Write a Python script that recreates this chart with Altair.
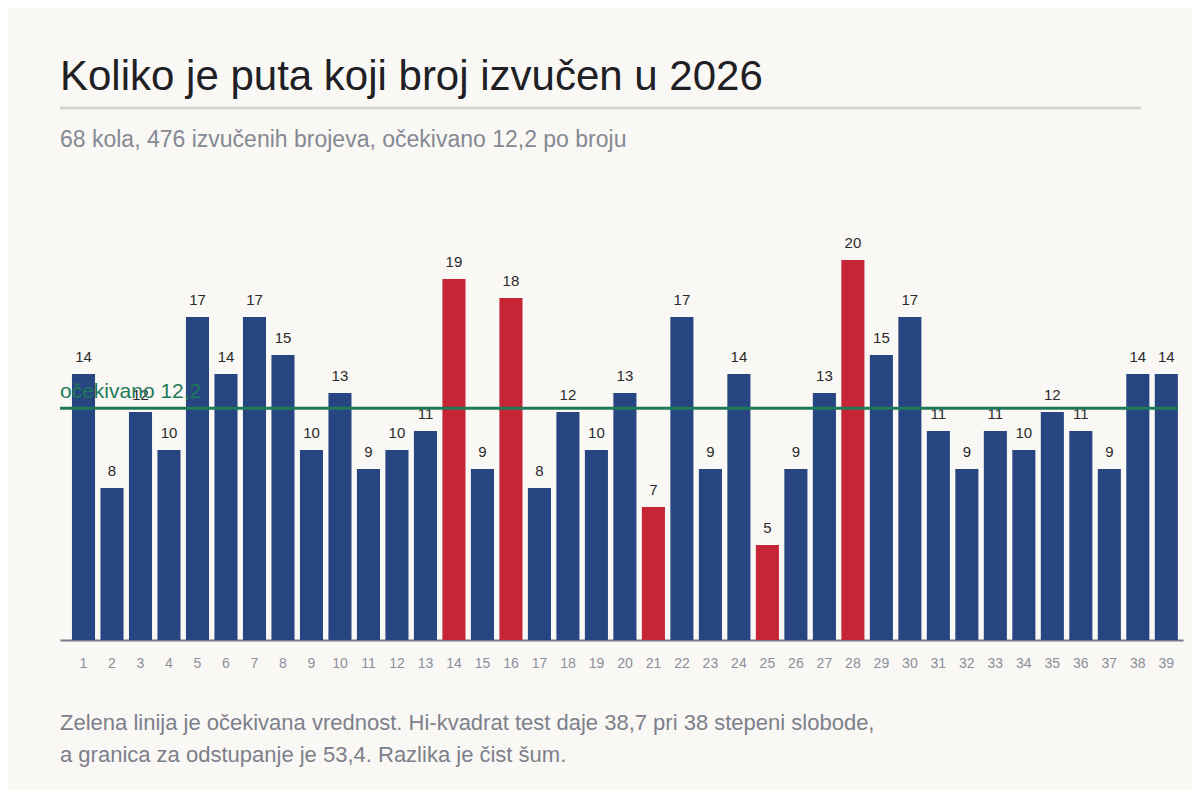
import altair as alt
import pandas as pd

numbers = list(range(1, 40))
counts = [14, 8, 12, 10, 17, 14, 17, 15, 10, 13, 9, 10, 11, 19, 9, 18, 8, 12, 10, 13,
          7, 17, 9, 14, 5, 9, 13, 20, 15, 17, 11, 9, 11, 10, 12, 11, 9, 14, 14]
highlight = [14, 16, 21, 25, 28]
expected = 12.2
expected_label = "očekivano 12,2"
title_text = "Koliko je puta koji broj izvučen u 2026"
subtitle_text = "68 kola, 476 izvučenih brojeva, očekivano 12,2 po broju"
note_lines = [
    "Zelena linija je očekivana vrednost. Hi-kvadrat test daje 38,7 pri 38 stepeni slobode,",
    "a granica za odstupanje je 53,4. Razlika je čist šum.",
]

df = pd.DataFrame({
    "broj": numbers,
    "count": counts,
    "tip": ["odstupanje" if n in highlight else "normalno" for n in numbers],
})

W, H = 1123, 418
FONT = "Liberation Sans"
yscale = alt.Scale(domain=[0, 22])

x_enc = alt.X("broj:O", sort=numbers,
              scale=alt.Scale(paddingInner=0.19, paddingOuter=0.3, align=0.7),
              axis=alt.Axis(title=None, labelAngle=0, ticks=False, labelPadding=16,
                            labelFontSize=14, labelColor="#8b8f99", labelFont=FONT,
                            domainColor="#747a8a", domainWidth=2, grid=False))
y_enc = alt.Y("count:Q", scale=yscale, axis=None)

base = alt.Chart(df)
bars = base.mark_bar().encode(
    x=x_enc, y=y_enc,
    color=alt.Color("tip:N", scale=alt.Scale(domain=["normalno", "odstupanje"],
                                             range=["#274580", "#c62535"]), legend=None),
)
labels = base.mark_text(baseline="alphabetic", dy=-12, fontSize=15, font=FONT,
                        color="#2a2a2a").encode(x=x_enc, y=y_enc, text="count:Q")

exp_df = pd.DataFrame({"count": [expected], "label": [expected_label]})
exp_rule = alt.Chart(exp_df).mark_rule(color="#1f7a58", strokeWidth=3).encode(
    y=y_enc, x=alt.value(0), x2=alt.value(W - 5))
exp_text = alt.Chart(exp_df).mark_text(align="left", baseline="alphabetic", dy=-10,
                                       fontSize=21, font=FONT, color="#1f7a58").encode(
    y=y_enc, x=alt.value(0), text="label:N")

title = alt.Chart(pd.DataFrame({"t": [title_text]})).mark_text(
    align="left", baseline="alphabetic", fontSize=42, font=FONT, color="#1f2024").encode(
    x=alt.value(0), y=alt.value(-132), text="t:N")
title_rule = alt.Chart(pd.DataFrame({"a": [0]})).mark_rule(
    color="#d5d3cd", strokeWidth=3).encode(x=alt.value(0), x2=alt.value(1081), y=alt.value(-114))
subtitle = alt.Chart(pd.DataFrame({"t": [subtitle_text]})).mark_text(
    align="left", baseline="alphabetic", fontSize=23, font=FONT, color="#858993").encode(
    x=alt.value(0), y=alt.value(-75), text="t:N")
note1 = alt.Chart(pd.DataFrame({"t": [note_lines[0]]})).mark_text(
    align="left", baseline="alphabetic", fontSize=22, font=FONT, color="#7d808b").encode(
    x=alt.value(0), y=alt.value(508), text="t:N")
note2 = alt.Chart(pd.DataFrame({"t": [note_lines[1]]})).mark_text(
    align="left", baseline="alphabetic", fontSize=22, font=FONT, color="#7d808b").encode(
    x=alt.value(0), y=alt.value(540), text="t:N")

chart = alt.layer(bars, labels, exp_rule, exp_text, title, title_rule, subtitle, note1, note2).properties(
    width=W, height=H,
    autosize=alt.AutoSizeParams(type="none"),
    padding={"left": 52, "top": 214, "right": 9, "bottom": 150},
    background="#f9f8f5",
).configure_view(stroke=None)

chart.save("out.html", embed_options={"renderer": "svg", "actions": False})
